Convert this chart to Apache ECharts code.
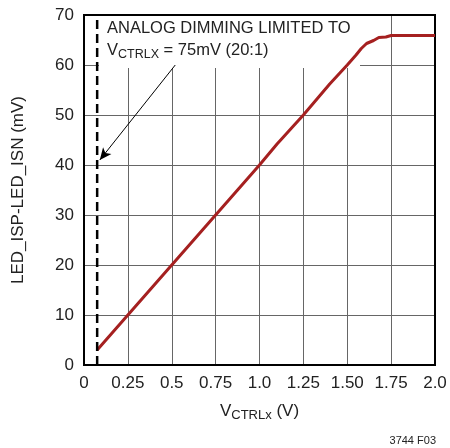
<!DOCTYPE html>
<html>
<head>
<meta charset="utf-8">
<script src="https://cdn.jsdelivr.net/npm/echarts@6/dist/echarts.min.js"></script>
<style>
  html, body { margin: 0; padding: 0; background: #fff; }
  #chart { width: 450px; height: 448px; }
</style>
</head>
<body>
<div id="chart"></div>
<script>
// V_CTRLx (V) vs LED_ISP-LED_ISN (mV)
var vctrl = [0.075, 0.25, 0.5, 0.75, 1.0, 1.1, 1.25, 1.4, 1.5, 1.55, 1.58, 1.61, 1.65, 1.68, 1.72, 1.75, 2.0];
var vsense = [3.0, 10.0, 20.0, 30.0, 40.0, 44.2, 50.0, 56.2, 60.0, 62.0, 63.3, 64.3, 64.9, 65.5, 65.6, 65.9, 65.9];
var xTicks = ['0', '0.25', '0.5', '0.75', '1.0', '1.25', '1.50', '1.75', '2.0'];
var dimLimit = 0.075;
var arrowFrom = [0.52, 60];
var arrowTo = [0.09, 41];

var FONT = '"Liberation Sans Narrow", "Liberation Sans", Arial, sans-serif';

var chart = echarts.init(document.getElementById('chart'));

var curve = [];
for (var i = 0; i < vctrl.length; i++) {
    curve.push([vctrl[i], vsense[i]]);
}

var option = {
    animation: false,
    grid: { left: 84, right: 15, top: 15, bottom: 83 },
    xAxis: {
        type: 'value', min: 0, max: 2, interval: 0.25,
        axisLine: { show: true, lineStyle: { color: '#000', width: 2 } },
        axisTick: { show: false },
        axisLabel: {
            color: '#222', fontFamily: FONT, fontSize: 17, margin: 10,
            formatter: function (v) { return xTicks[Math.round(v / 0.25)]; }
        },
        splitLine: { show: true, lineStyle: { color: '#666', width: 1 } },
        name: '{v|V}{s|CTRLx}{v| (V)}',
        nameLocation: 'middle', nameGap: 36,
        nameTextStyle: {
            rich: {
                v: { fontFamily: FONT, fontSize: 17, color: '#222' },
                s: { fontFamily: FONT, fontSize: 13, color: '#222', verticalAlign: 'bottom', padding: [8, 0, 0, 0] }
            }
        }
    },
    yAxis: {
        type: 'value', min: 0, max: 70, interval: 10,
        axisLine: { show: true, lineStyle: { color: '#000', width: 2 } },
        axisTick: { show: false },
        axisLabel: { color: '#222', fontFamily: FONT, fontSize: 17, margin: 10 },
        splitLine: { show: true, lineStyle: { color: '#666', width: 1 } },
        name: 'LED_ISP-LED_ISN (mV)',
        nameLocation: 'middle', nameGap: 57,
        nameTextStyle: { fontFamily: FONT, fontSize: 17, color: '#222' }
    },
    graphic: [
        // frame on top/right
        { type: 'rect', z: 1, shape: { x: 84, y: 15, width: 351, height: 350 },
          style: { fill: 'none', stroke: '#000', lineWidth: 2 } },
        // white box behind the note
        { type: 'rect', z: 1, shape: { x: 99, y: 16, width: 261, height: 52 },
          style: { fill: '#fff' } },
        { type: 'text', z: 3, left: 107, top: 20,
          style: {
              text: '{n|ANALOG DIMMING LIMITED TO}\n{n|V}{s|CTRLX}{n| = 75mV (20:1)}',
              rich: {
                  n: { fontFamily: FONT, fontSize: 16.5, fill: '#222', lineHeight: 22 },
                  s: { fontFamily: FONT, fontSize: 12.5, fill: '#222', padding: [8, 0, 0, 0], lineHeight: 22 }
              }
          } },
        { type: 'text', z: 3, right: 14, bottom: 2,
          style: { text: '3744 F03', fontFamily: FONT, fontSize: 11, fill: '#222' } }
    ],
    series: [
        {
            type: 'line', data: curve, symbol: 'none', z: 3,
            lineStyle: { color: '#a52020', width: 3 }
        },
        {
            type: 'line', data: [[dimLimit, 0], [dimLimit, 70]], symbol: 'none', z: 4,
            lineStyle: { color: '#000', width: 2.5, type: [9, 5] },
            markLine: {
                silent: true, symbol: ['none', 'arrow'], symbolSize: [8, 12],
                label: { show: false },
                lineStyle: { color: '#000', width: 1, type: 'solid' },
                data: [[{ coord: arrowFrom }, { coord: arrowTo }]]
            }
        }
    ]
};

chart.setOption(option);
</script>
</body>
</html>
